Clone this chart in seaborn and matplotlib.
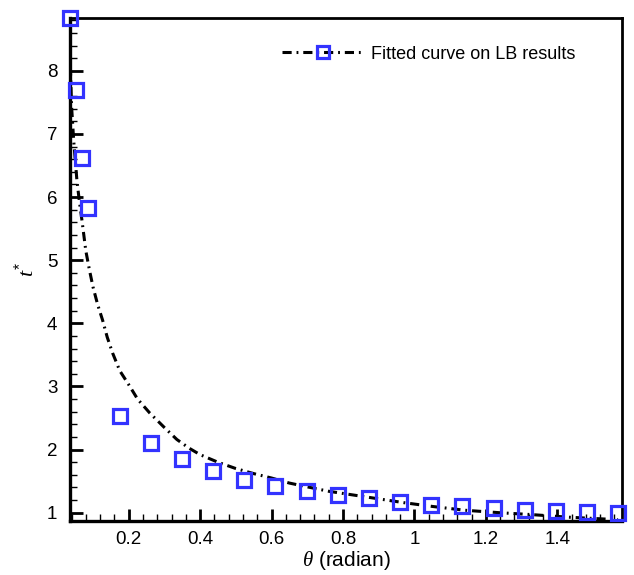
import matplotlib
matplotlib.use("Agg")
import matplotlib.pyplot as plt
import matplotlib.ticker as mticker
from matplotlib.lines import Line2D
import seaborn as sns

# LB results (angles 2,3,4,5,10,15,...,90 deg)
theta_lb = [0.035, 0.052, 0.070, 0.087, 0.175, 0.262, 0.349, 0.436, 0.524,
            0.611, 0.698, 0.785, 0.873, 0.960, 1.047, 1.134, 1.222, 1.309,
            1.396, 1.484, 1.571]
t_lb = [8.84, 7.70, 6.62, 5.82, 2.53, 2.11, 1.85, 1.66, 1.52,
        1.43, 1.35, 1.28, 1.24, 1.17, 1.13, 1.11, 1.08, 1.05,
        1.02, 1.01, 1.00]

# fitted curve
theta_fit = [0.035, 0.040, 0.046, 0.055, 0.062, 0.069, 0.080, 0.090, 0.100,
             0.113, 0.127, 0.140, 0.155, 0.175, 0.200, 0.225, 0.259, 0.300,
             0.335, 0.370, 0.400, 0.450, 0.500, 0.550, 0.600, 0.650, 0.700,
             0.760, 0.830, 0.900, 0.970, 1.050, 1.140, 1.240, 1.330, 1.430,
             1.500, 1.570]
t_fit = [8.40, 7.45, 6.90, 6.27, 5.93, 5.64, 5.15, 4.85, 4.58,
         4.30, 4.05, 3.78, 3.53, 3.25, 3.03, 2.80, 2.58, 2.35,
         2.16, 2.02, 1.92, 1.80, 1.70, 1.62, 1.55, 1.47, 1.41,
         1.34, 1.28, 1.22, 1.16, 1.10, 1.04, 1.00, 0.97, 0.93,
         0.91, 0.89]

legend_label = "Fitted curve on LB results"
marker_color = "#3333ff"
dashdot = (0, (3, 1.6, 0.6, 1.6))

sns.set_style("ticks")
plt.rcParams["font.family"] = ["Liberation Sans", "DejaVu Sans"]
plt.rcParams["mathtext.fontset"] = "custom"
plt.rcParams["mathtext.it"] = "Liberation Serif:italic"
plt.rcParams["mathtext.rm"] = "Liberation Sans"
for key in ["text.color", "axes.labelcolor", "xtick.color", "ytick.color", "axes.edgecolor"]:
    plt.rcParams[key] = "black"

fig = plt.figure(figsize=(6.34, 5.75), dpi=100)
ax = fig.add_axes([0.110, 0.094, 0.871, 0.875])

sns.lineplot(x=theta_fit, y=t_fit, ax=ax, color="black", linewidth=2.2,
             linestyle=dashdot, sort=False, estimator=None)
sns.lineplot(x=theta_lb, y=t_lb, ax=ax, linestyle="", marker="s",
             markersize=10, markerfacecolor="none", markeredgecolor=marker_color,
             markeredgewidth=2.3, clip_on=False, zorder=5, sort=False, estimator=None)

ax.set_xlim(0.035, 1.581)
ax.set_ylim(0.87, 8.84)

ax.xaxis.set_major_locator(mticker.FixedLocator([0.2, 0.4, 0.6, 0.8, 1.0, 1.2, 1.4]))
ax.xaxis.set_major_formatter(mticker.FuncFormatter(lambda v, p: f"{v:g}"))
ax.xaxis.set_minor_locator(mticker.MultipleLocator(0.04))
ax.yaxis.set_major_locator(mticker.MultipleLocator(1))
ax.yaxis.set_minor_locator(mticker.MultipleLocator(0.2))

ax.tick_params(which="both", direction="in", top=False, right=False, labelsize=13.5)
ax.tick_params(which="major", length=9, width=2)
ax.tick_params(which="minor", length=5, width=1)
ax.tick_params(axis="x", which="major", pad=7)
ax.tick_params(axis="y", which="major", pad=9)

for side in ["left", "bottom"]:
    ax.spines[side].set_linewidth(2.4)
for side in ["top", "right"]:
    ax.spines[side].set_linewidth(2.0)

ax.set_xlabel(r"$\theta$ (radian)", fontsize=15, labelpad=1)
ax.set_ylabel(r"$t^{*}$", fontsize=16, labelpad=6)

handle = Line2D([], [], color="black", linewidth=2.2, linestyle=dashdot,
                marker="s", markersize=9, markerfacecolor="none",
                markeredgecolor=marker_color, markeredgewidth=2.3)
ax.legend([handle], [legend_label], loc="center left",
          bbox_to_anchor=(0.384, 0.928), frameon=False, fontsize=13,
          handlelength=4.6, handletextpad=0.33, borderpad=0, borderaxespad=0,
          numpoints=1)

fig.savefig("out.png", dpi=100)
plt.close(fig)
